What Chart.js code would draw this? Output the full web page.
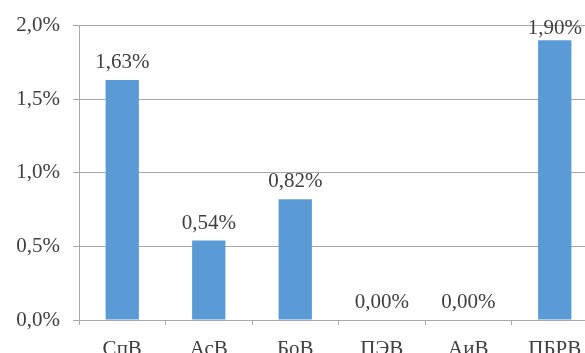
<!DOCTYPE html>
<html>
<head>
<meta charset="utf-8">
<script src="https://cdn.jsdelivr.net/npm/chart.js@4.4.1/dist/chart.umd.min.js"></script>
<style>
  html, body { margin: 0; padding: 0; background: #ffffff; overflow: hidden; }
  #wrap { position: relative; width: 600px; height: 353px; }
</style>
</head>
<body>
<div id="wrap"><canvas id="chart"></canvas></div>
<script>
// Share of each unit, percent
const categories = ['СпВ', 'АсВ', 'БоВ', 'ПЭВ', 'АиВ', 'ПБРВ'];
const shares = [1.63, 0.54, 0.82, 0.00, 0.00, 1.90];
const yTicks = [0, 0.5, 1.0, 1.5, 2.0];

const textColor = '#404040';
const gridColor = '#A8A8A8';
const serif = 'Liberation Serif, Times New Roman, serif';

const fmt = (v, d) => v.toFixed(d).replace('.', ',') + '%';

// Value labels above each bar
const valueLabels = {
  id: 'valueLabels',
  afterDatasetsDraw(chart) {
    const ctx = chart.ctx;
    const meta = chart.getDatasetMeta(0);
    const area = chart.chartArea;
    ctx.save();
    ctx.font = '21px ' + serif;
    ctx.fillStyle = textColor;
    ctx.textAlign = 'center';
    ctx.textBaseline = 'alphabetic';
    meta.data.forEach((bar, i) => {
      const y = Math.max(bar.y - 12, area.top + 8);
      ctx.fillText(fmt(shares[i], 2), bar.x, y);
    });
    ctx.restore();
  }
};

new Chart(document.getElementById('chart'), {
  type: 'bar',
  data: {
    labels: categories,
    datasets: [{
      data: shares,
      backgroundColor: '#5B9BD5',
      borderWidth: 0,
      categoryPercentage: 1.0,
      barPercentage: 0.385
    }]
  },
  options: {
    responsive: true,
    maintainAspectRatio: false,
    animation: false,
    layout: { padding: { left: 0, right: 2, top: 24, bottom: 0 } },
    plugins: { legend: { display: false }, tooltip: { enabled: false } },
    scales: {
      x: {
        offset: true,
        grid: {
          offset: true,
          drawOnChartArea: false,
          drawTicks: true,
          tickLength: 5,
          color: gridColor
        },
        border: { display: true, color: gridColor, width: 1 },
        ticks: {
          color: textColor,
          font: { family: serif, size: 21 },
          padding: 12,
          maxRotation: 0,
          autoSkip: false
        },
        afterFit(scale) { scale.height = 33; }
      },
      y: {
        min: 0,
        max: 2,
        afterBuildTicks(scale) { scale.ticks = yTicks.map(v => ({ value: v })); },
        grid: {
          color: gridColor,
          lineWidth: 1,
          drawTicks: true,
          tickLength: 6
        },
        border: { display: true, color: gridColor, width: 1 },
        ticks: {
          color: textColor,
          font: { family: serif, size: 21 },
          padding: 13,
          callback: (v) => fmt(v, 1)
        },
        afterFit(scale) { scale.width = 79; }
      }
    }
  },
  plugins: [valueLabels]
});
</script>
</body>
</html>
